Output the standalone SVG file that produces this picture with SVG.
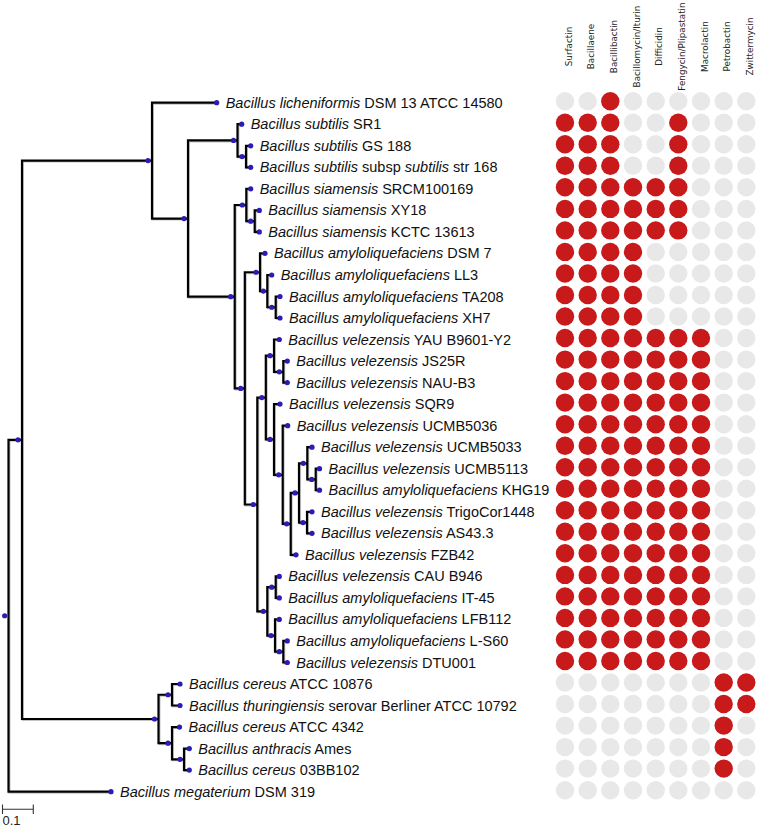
<svg xmlns="http://www.w3.org/2000/svg" width="759" height="829" viewBox="0 0 759 829">
<style>
.br{fill:none;stroke:#000;stroke-width:2.2;stroke-linejoin:miter;stroke-linecap:butt}
.sh{fill:none;stroke:#c4c4c4;stroke-width:2.2;stroke-linejoin:miter}
.nd{fill:#2a1cb4}
.lb{font-family:"Liberation Sans",Arial,sans-serif;font-size:14.5px;fill:#111}
.lb tspan.i{font-style:italic}
.hd{font-family:"DejaVu Sans",Verdana,sans-serif;font-size:8.8px;fill:#222;text-anchor:middle}
.r{fill:#c8191b}
.g{fill:#e8e8e8}
</style>
<rect width="759" height="829" fill="#fff"/>
<g id="connectors">
<g transform="translate(0.9,0.9)">
<path class="sh" d="M22 439.8H8.5V791.7H111M152 160.6H22V719H158.5M216.7 102.7H152V218.55H188M237.5 140.4H188V296.7H234.7M241.7 124.2H237.5V156.55H246M250.7 145.8H246V167.3H250.7M246.3 205H234.7V388.4H244.8M250.7 188.8H246.3V221.15H254.7M259.3 210.4H254.7V231.9H259.3M260 272.25H244.8V504.5H257.3M265 253.4H260V291.1H267.3M271.7 275H267.3V307.25H275.7M280 296.5H275.7V318H280M265.8 397.6H257.3V611.35H267.3M274 355.7H265.8V439.45H274M279.3 339.5H274V371.85H283.3M287.3 361.1H283.3V382.6H287.3M280 404.1H274V474.8H282.7M287.7 425.7H282.7V523.85H290.7M299 492.9H290.7V554.8H296M307.3 463.3H299V522.55H307M312 447.2H307.3V479.45H315.7M319.5 468.7H315.7V490.2H319.5M312 511.8H307V533.3H312M275.7 587.15H267.3V635.55H275M279.3 576.4H275.7V597.9H279.3M279.3 619.4H275V651.7H283.3M287.3 640.9H283.3V662.5H287.3M172 694.75H158.5V743.2H172M180 684H172V705.5H180M179.5 727.1H172V759.35H184M189.3 748.6H184V770.1H189.3"/>
</g>
<path class="br" d="M22 439.8H8.5V791.7H111"/>
<path class="br" d="M152 160.6H22V719H158.5"/>
<path class="br" d="M216.7 102.7H152V218.55H188"/>
<path class="br" d="M237.5 140.4H188V296.7H234.7"/>
<path class="br" d="M241.7 124.2H237.5V156.55H246"/>
<path class="br" d="M250.7 145.8H246V167.3H250.7"/>
<path class="br" d="M246.3 205H234.7V388.4H244.8"/>
<path class="br" d="M250.7 188.8H246.3V221.15H254.7"/>
<path class="br" d="M259.3 210.4H254.7V231.9H259.3"/>
<path class="br" d="M260 272.25H244.8V504.5H257.3"/>
<path class="br" d="M265 253.4H260V291.1H267.3"/>
<path class="br" d="M271.7 275H267.3V307.25H275.7"/>
<path class="br" d="M280 296.5H275.7V318H280"/>
<path class="br" d="M265.8 397.6H257.3V611.35H267.3"/>
<path class="br" d="M274 355.7H265.8V439.45H274"/>
<path class="br" d="M279.3 339.5H274V371.85H283.3"/>
<path class="br" d="M287.3 361.1H283.3V382.6H287.3"/>
<path class="br" d="M280 404.1H274V474.8H282.7"/>
<path class="br" d="M287.7 425.7H282.7V523.85H290.7"/>
<path class="br" d="M299 492.9H290.7V554.8H296"/>
<path class="br" d="M307.3 463.3H299V522.55H307"/>
<path class="br" d="M312 447.2H307.3V479.45H315.7"/>
<path class="br" d="M319.5 468.7H315.7V490.2H319.5"/>
<path class="br" d="M312 511.8H307V533.3H312"/>
<path class="br" d="M275.7 587.15H267.3V635.55H275"/>
<path class="br" d="M279.3 576.4H275.7V597.9H279.3"/>
<path class="br" d="M279.3 619.4H275V651.7H283.3"/>
<path class="br" d="M287.3 640.9H283.3V662.5H287.3"/>
<path class="br" d="M172 694.75H158.5V743.2H172"/>
<path class="br" d="M180 684H172V705.5H180"/>
<path class="br" d="M179.5 727.1H172V759.35H184"/>
<path class="br" d="M189.3 748.6H184V770.1H189.3"/>
</g>
<g id="internal-nodes">
<circle id="n-root" class="nd" cx="4.7" cy="615.75" r="2.6"/>
<circle id="n-A" class="nd" cx="18" cy="439.8" r="2.6"/>
<circle id="n-B" class="nd" cx="148" cy="160.6" r="2.6"/>
<circle id="n-C" class="nd" cx="184" cy="218.55" r="2.6"/>
<circle id="n-S1" class="nd" cx="233.5" cy="140.4" r="2.6"/>
<circle id="n-S2" class="nd" cx="242" cy="156.55" r="2.6"/>
<circle id="n-D" class="nd" cx="230.7" cy="296.7" r="2.6"/>
<circle id="n-Si1" class="nd" cx="242.3" cy="205" r="2.6"/>
<circle id="n-Si2" class="nd" cx="250.7" cy="221.15" r="2.6"/>
<circle id="n-E" class="nd" cx="240.7" cy="388.4" r="2.6"/>
<circle id="n-Am1" class="nd" cx="256" cy="272.25" r="2.6"/>
<circle id="n-Am2" class="nd" cx="263.3" cy="291.1" r="2.6"/>
<circle id="n-Am3" class="nd" cx="271.7" cy="307.25" r="2.6"/>
<circle id="n-F" class="nd" cx="253.3" cy="504.5" r="2.6"/>
<circle id="n-G" class="nd" cx="261.8" cy="397.6" r="2.6"/>
<circle id="n-V1" class="nd" cx="270" cy="355.7" r="2.6"/>
<circle id="n-V2" class="nd" cx="279.3" cy="371.85" r="2.6"/>
<circle id="n-V3" class="nd" cx="270" cy="439.45" r="2.6"/>
<circle id="n-V4" class="nd" cx="278.7" cy="474.8" r="2.6"/>
<circle id="n-V5" class="nd" cx="286.7" cy="523.85" r="2.6"/>
<circle id="n-V9" class="nd" cx="295" cy="492.9" r="2.6"/>
<circle id="n-V6" class="nd" cx="303.3" cy="463.3" r="2.6"/>
<circle id="n-V7" class="nd" cx="311.7" cy="479.45" r="2.6"/>
<circle id="n-V8" class="nd" cx="303" cy="522.55" r="2.6"/>
<circle id="n-H" class="nd" cx="263.3" cy="611.35" r="2.6"/>
<circle id="n-H1" class="nd" cx="271.7" cy="587.15" r="2.6"/>
<circle id="n-H2" class="nd" cx="271" cy="635.55" r="2.6"/>
<circle id="n-H3" class="nd" cx="279.3" cy="651.7" r="2.6"/>
<circle id="n-Cer" class="nd" cx="154.5" cy="719" r="2.6"/>
<circle id="n-Cer1" class="nd" cx="168" cy="694.75" r="2.6"/>
<circle id="n-Cer2" class="nd" cx="168" cy="743.2" r="2.6"/>
<circle id="n-Cer3" class="nd" cx="180" cy="759.35" r="2.6"/>
</g>
<g id="leaves">
<g id="leaf-0"><circle class="nd" cx="216.7" cy="102.7" r="2.6"/><text class="lb" x="225.7" y="107.7"><tspan class="i">Bacillus licheniformis</tspan> DSM 13 ATCC 14580</text></g>
<g id="leaf-1"><circle class="nd" cx="241.7" cy="124.2" r="2.6"/><text class="lb" x="250.7" y="129.2"><tspan class="i">Bacillus subtilis</tspan> SR1</text></g>
<g id="leaf-2"><circle class="nd" cx="250.7" cy="145.8" r="2.6"/><text class="lb" x="259.7" y="150.8"><tspan class="i">Bacillus subtilis</tspan> GS 188</text></g>
<g id="leaf-3"><circle class="nd" cx="250.7" cy="167.3" r="2.6"/><text class="lb" x="259.7" y="172.3"><tspan class="i">Bacillus subtilis</tspan> subsp <tspan class="i">subtilis</tspan> str 168</text></g>
<g id="leaf-4"><circle class="nd" cx="250.7" cy="188.8" r="2.6"/><text class="lb" x="259.7" y="193.8"><tspan class="i">Bacillus siamensis</tspan> SRCM100169</text></g>
<g id="leaf-5"><circle class="nd" cx="259.3" cy="210.4" r="2.6"/><text class="lb" x="268.3" y="215.4"><tspan class="i">Bacillus siamensis</tspan> XY18</text></g>
<g id="leaf-6"><circle class="nd" cx="259.3" cy="231.9" r="2.6"/><text class="lb" x="268.3" y="236.9"><tspan class="i">Bacillus siamensis</tspan> KCTC 13613</text></g>
<g id="leaf-7"><circle class="nd" cx="265" cy="253.4" r="2.6"/><text class="lb" x="274" y="258.4"><tspan class="i">Bacillus amyloliquefaciens</tspan> DSM 7</text></g>
<g id="leaf-8"><circle class="nd" cx="271.7" cy="275" r="2.6"/><text class="lb" x="280.7" y="280"><tspan class="i">Bacillus amyloliquefaciens</tspan> LL3</text></g>
<g id="leaf-9"><circle class="nd" cx="280" cy="296.5" r="2.6"/><text class="lb" x="289" y="301.5"><tspan class="i">Bacillus amyloliquefaciens</tspan> TA208</text></g>
<g id="leaf-10"><circle class="nd" cx="280" cy="318" r="2.6"/><text class="lb" x="289" y="323"><tspan class="i">Bacillus amyloliquefaciens</tspan> XH7</text></g>
<g id="leaf-11"><circle class="nd" cx="279.3" cy="339.5" r="2.6"/><text class="lb" x="288.3" y="344.5"><tspan class="i">Bacillus velezensis</tspan> YAU B9601-Y2</text></g>
<g id="leaf-12"><circle class="nd" cx="287.3" cy="361.1" r="2.6"/><text class="lb" x="296.3" y="366.1"><tspan class="i">Bacillus velezensis</tspan> JS25R</text></g>
<g id="leaf-13"><circle class="nd" cx="287.3" cy="382.6" r="2.6"/><text class="lb" x="296.3" y="387.6"><tspan class="i">Bacillus velezensis</tspan> NAU-B3</text></g>
<g id="leaf-14"><circle class="nd" cx="280" cy="404.1" r="2.6"/><text class="lb" x="289" y="409.1"><tspan class="i">Bacillus velezensis</tspan> SQR9</text></g>
<g id="leaf-15"><circle class="nd" cx="287.7" cy="425.7" r="2.6"/><text class="lb" x="296.7" y="430.7"><tspan class="i">Bacillus velezensis</tspan> UCMB5036</text></g>
<g id="leaf-16"><circle class="nd" cx="312" cy="447.2" r="2.6"/><text class="lb" x="321" y="452.2"><tspan class="i">Bacillus velezensis</tspan> UCMB5033</text></g>
<g id="leaf-17"><circle class="nd" cx="319.5" cy="468.7" r="2.6"/><text class="lb" x="328.5" y="473.7"><tspan class="i">Bacillus velezensis</tspan> UCMB5113</text></g>
<g id="leaf-18"><circle class="nd" cx="319.5" cy="490.2" r="2.6"/><text class="lb" x="328.5" y="495.2"><tspan class="i">Bacillus amyloliquefaciens</tspan> KHG19</text></g>
<g id="leaf-19"><circle class="nd" cx="312" cy="511.8" r="2.6"/><text class="lb" x="321" y="516.8"><tspan class="i">Bacillus velezensis</tspan> TrigoCor1448</text></g>
<g id="leaf-20"><circle class="nd" cx="312" cy="533.3" r="2.6"/><text class="lb" x="321" y="538.3"><tspan class="i">Bacillus velezensis</tspan> AS43.3</text></g>
<g id="leaf-21"><circle class="nd" cx="296" cy="554.8" r="2.6"/><text class="lb" x="305" y="559.8"><tspan class="i">Bacillus velezensis</tspan> FZB42</text></g>
<g id="leaf-22"><circle class="nd" cx="279.3" cy="576.4" r="2.6"/><text class="lb" x="288.3" y="581.4"><tspan class="i">Bacillus velezensis</tspan> CAU B946</text></g>
<g id="leaf-23"><circle class="nd" cx="279.3" cy="597.9" r="2.6"/><text class="lb" x="288.3" y="602.9"><tspan class="i">Bacillus amyloliquefaciens</tspan> IT-45</text></g>
<g id="leaf-24"><circle class="nd" cx="279.3" cy="619.4" r="2.6"/><text class="lb" x="288.3" y="624.4"><tspan class="i">Bacillus amyloliquefaciens</tspan> LFB112</text></g>
<g id="leaf-25"><circle class="nd" cx="287.3" cy="640.9" r="2.6"/><text class="lb" x="296.3" y="645.9"><tspan class="i">Bacillus amyloliquefaciens</tspan> L-S60</text></g>
<g id="leaf-26"><circle class="nd" cx="287.3" cy="662.5" r="2.6"/><text class="lb" x="296.3" y="667.5"><tspan class="i">Bacillus velezensis</tspan> DTU001</text></g>
<g id="leaf-27"><circle class="nd" cx="180" cy="684" r="2.6"/><text class="lb" x="189" y="689"><tspan class="i">Bacillus cereus</tspan> ATCC 10876</text></g>
<g id="leaf-28"><circle class="nd" cx="180" cy="705.5" r="2.6"/><text class="lb" x="189" y="710.5"><tspan class="i">Bacillus thuringiensis</tspan> serovar Berliner ATCC 10792</text></g>
<g id="leaf-29"><circle class="nd" cx="179.5" cy="727.1" r="2.6"/><text class="lb" x="188.5" y="732.1"><tspan class="i">Bacillus cereus</tspan> ATCC 4342</text></g>
<g id="leaf-30"><circle class="nd" cx="189.3" cy="748.6" r="2.6"/><text class="lb" x="198.3" y="753.6"><tspan class="i">Bacillus anthracis</tspan> Ames</text></g>
<g id="leaf-31"><circle class="nd" cx="189.3" cy="770.1" r="2.6"/><text class="lb" x="198.3" y="775.1"><tspan class="i">Bacillus cereus</tspan> 03BB102</text></g>
<g id="leaf-32"><circle class="nd" cx="111" cy="791.7" r="2.6"/><text class="lb" x="120" y="796.7"><tspan class="i">Bacillus megaterium</tspan> DSM 319</text></g>
</g>
<g id="headers">
<text class="hd" transform="translate(571.5,46.5) rotate(-90)">Surfactin</text>
<text class="hd" transform="translate(594.2,46.5) rotate(-90)">Bacillaene</text>
<text class="hd" transform="translate(616.8,46.5) rotate(-90)">Bacillibactin</text>
<text class="hd" transform="translate(639.5,46.5) rotate(-90)">Bacillomycin/Iturin</text>
<text class="hd" transform="translate(662.2,46.5) rotate(-90)">Difficidin</text>
<text class="hd" transform="translate(684.8,46.5) rotate(-90)">Fengycin/Plipastatin</text>
<text class="hd" transform="translate(707.5,46.5) rotate(-90)">Macrolactin</text>
<text class="hd" transform="translate(730.2,46.5) rotate(-90)">Petrobactin</text>
<text class="hd" transform="translate(752.8,46.5) rotate(-90)">Zwittermycin</text>
</g>
<defs>
<circle id="c" r="9.2"/>
</defs>
<g id="matrix">
<g transform="translate(0,101.2)"><use href="#c" x="565" class="g"/><use href="#c" x="587.7" class="g"/><use href="#c" x="610.3" class="r"/><use href="#c" x="633" class="g"/><use href="#c" x="655.7" class="g"/><use href="#c" x="678.3" class="g"/><use href="#c" x="701" class="g"/><use href="#c" x="723.7" class="g"/><use href="#c" x="746.3" class="g"/></g>
<g transform="translate(0,122.7)"><use href="#c" x="565" class="r"/><use href="#c" x="587.7" class="r"/><use href="#c" x="610.3" class="r"/><use href="#c" x="633" class="g"/><use href="#c" x="655.7" class="g"/><use href="#c" x="678.3" class="r"/><use href="#c" x="701" class="g"/><use href="#c" x="723.7" class="g"/><use href="#c" x="746.3" class="g"/></g>
<g transform="translate(0,144.3)"><use href="#c" x="565" class="r"/><use href="#c" x="587.7" class="r"/><use href="#c" x="610.3" class="r"/><use href="#c" x="633" class="g"/><use href="#c" x="655.7" class="g"/><use href="#c" x="678.3" class="r"/><use href="#c" x="701" class="g"/><use href="#c" x="723.7" class="g"/><use href="#c" x="746.3" class="g"/></g>
<g transform="translate(0,165.8)"><use href="#c" x="565" class="r"/><use href="#c" x="587.7" class="r"/><use href="#c" x="610.3" class="r"/><use href="#c" x="633" class="g"/><use href="#c" x="655.7" class="g"/><use href="#c" x="678.3" class="r"/><use href="#c" x="701" class="g"/><use href="#c" x="723.7" class="g"/><use href="#c" x="746.3" class="g"/></g>
<g transform="translate(0,187.3)"><use href="#c" x="565" class="r"/><use href="#c" x="587.7" class="r"/><use href="#c" x="610.3" class="r"/><use href="#c" x="633" class="r"/><use href="#c" x="655.7" class="r"/><use href="#c" x="678.3" class="r"/><use href="#c" x="701" class="g"/><use href="#c" x="723.7" class="g"/><use href="#c" x="746.3" class="g"/></g>
<g transform="translate(0,208.9)"><use href="#c" x="565" class="r"/><use href="#c" x="587.7" class="r"/><use href="#c" x="610.3" class="r"/><use href="#c" x="633" class="r"/><use href="#c" x="655.7" class="r"/><use href="#c" x="678.3" class="r"/><use href="#c" x="701" class="g"/><use href="#c" x="723.7" class="g"/><use href="#c" x="746.3" class="g"/></g>
<g transform="translate(0,230.4)"><use href="#c" x="565" class="r"/><use href="#c" x="587.7" class="r"/><use href="#c" x="610.3" class="r"/><use href="#c" x="633" class="r"/><use href="#c" x="655.7" class="r"/><use href="#c" x="678.3" class="r"/><use href="#c" x="701" class="g"/><use href="#c" x="723.7" class="g"/><use href="#c" x="746.3" class="g"/></g>
<g transform="translate(0,251.9)"><use href="#c" x="565" class="r"/><use href="#c" x="587.7" class="r"/><use href="#c" x="610.3" class="r"/><use href="#c" x="633" class="r"/><use href="#c" x="655.7" class="g"/><use href="#c" x="678.3" class="g"/><use href="#c" x="701" class="g"/><use href="#c" x="723.7" class="g"/><use href="#c" x="746.3" class="g"/></g>
<g transform="translate(0,273.5)"><use href="#c" x="565" class="r"/><use href="#c" x="587.7" class="r"/><use href="#c" x="610.3" class="r"/><use href="#c" x="633" class="r"/><use href="#c" x="655.7" class="g"/><use href="#c" x="678.3" class="g"/><use href="#c" x="701" class="g"/><use href="#c" x="723.7" class="g"/><use href="#c" x="746.3" class="g"/></g>
<g transform="translate(0,295)"><use href="#c" x="565" class="r"/><use href="#c" x="587.7" class="r"/><use href="#c" x="610.3" class="r"/><use href="#c" x="633" class="r"/><use href="#c" x="655.7" class="g"/><use href="#c" x="678.3" class="g"/><use href="#c" x="701" class="g"/><use href="#c" x="723.7" class="g"/><use href="#c" x="746.3" class="g"/></g>
<g transform="translate(0,316.5)"><use href="#c" x="565" class="r"/><use href="#c" x="587.7" class="r"/><use href="#c" x="610.3" class="r"/><use href="#c" x="633" class="r"/><use href="#c" x="655.7" class="g"/><use href="#c" x="678.3" class="g"/><use href="#c" x="701" class="g"/><use href="#c" x="723.7" class="g"/><use href="#c" x="746.3" class="g"/></g>
<g transform="translate(0,338)"><use href="#c" x="565" class="r"/><use href="#c" x="587.7" class="r"/><use href="#c" x="610.3" class="r"/><use href="#c" x="633" class="r"/><use href="#c" x="655.7" class="r"/><use href="#c" x="678.3" class="r"/><use href="#c" x="701" class="r"/><use href="#c" x="723.7" class="g"/><use href="#c" x="746.3" class="g"/></g>
<g transform="translate(0,359.6)"><use href="#c" x="565" class="r"/><use href="#c" x="587.7" class="r"/><use href="#c" x="610.3" class="r"/><use href="#c" x="633" class="r"/><use href="#c" x="655.7" class="r"/><use href="#c" x="678.3" class="r"/><use href="#c" x="701" class="r"/><use href="#c" x="723.7" class="g"/><use href="#c" x="746.3" class="g"/></g>
<g transform="translate(0,381.1)"><use href="#c" x="565" class="r"/><use href="#c" x="587.7" class="r"/><use href="#c" x="610.3" class="r"/><use href="#c" x="633" class="r"/><use href="#c" x="655.7" class="r"/><use href="#c" x="678.3" class="r"/><use href="#c" x="701" class="r"/><use href="#c" x="723.7" class="g"/><use href="#c" x="746.3" class="g"/></g>
<g transform="translate(0,402.6)"><use href="#c" x="565" class="r"/><use href="#c" x="587.7" class="r"/><use href="#c" x="610.3" class="r"/><use href="#c" x="633" class="r"/><use href="#c" x="655.7" class="r"/><use href="#c" x="678.3" class="r"/><use href="#c" x="701" class="r"/><use href="#c" x="723.7" class="g"/><use href="#c" x="746.3" class="g"/></g>
<g transform="translate(0,424.2)"><use href="#c" x="565" class="r"/><use href="#c" x="587.7" class="r"/><use href="#c" x="610.3" class="r"/><use href="#c" x="633" class="r"/><use href="#c" x="655.7" class="r"/><use href="#c" x="678.3" class="r"/><use href="#c" x="701" class="r"/><use href="#c" x="723.7" class="g"/><use href="#c" x="746.3" class="g"/></g>
<g transform="translate(0,445.7)"><use href="#c" x="565" class="r"/><use href="#c" x="587.7" class="r"/><use href="#c" x="610.3" class="r"/><use href="#c" x="633" class="r"/><use href="#c" x="655.7" class="r"/><use href="#c" x="678.3" class="r"/><use href="#c" x="701" class="r"/><use href="#c" x="723.7" class="g"/><use href="#c" x="746.3" class="g"/></g>
<g transform="translate(0,467.2)"><use href="#c" x="565" class="r"/><use href="#c" x="587.7" class="r"/><use href="#c" x="610.3" class="r"/><use href="#c" x="633" class="r"/><use href="#c" x="655.7" class="r"/><use href="#c" x="678.3" class="r"/><use href="#c" x="701" class="r"/><use href="#c" x="723.7" class="g"/><use href="#c" x="746.3" class="g"/></g>
<g transform="translate(0,488.7)"><use href="#c" x="565" class="r"/><use href="#c" x="587.7" class="r"/><use href="#c" x="610.3" class="r"/><use href="#c" x="633" class="r"/><use href="#c" x="655.7" class="r"/><use href="#c" x="678.3" class="r"/><use href="#c" x="701" class="r"/><use href="#c" x="723.7" class="g"/><use href="#c" x="746.3" class="g"/></g>
<g transform="translate(0,510.3)"><use href="#c" x="565" class="r"/><use href="#c" x="587.7" class="r"/><use href="#c" x="610.3" class="r"/><use href="#c" x="633" class="r"/><use href="#c" x="655.7" class="r"/><use href="#c" x="678.3" class="r"/><use href="#c" x="701" class="r"/><use href="#c" x="723.7" class="g"/><use href="#c" x="746.3" class="g"/></g>
<g transform="translate(0,531.8)"><use href="#c" x="565" class="r"/><use href="#c" x="587.7" class="r"/><use href="#c" x="610.3" class="r"/><use href="#c" x="633" class="r"/><use href="#c" x="655.7" class="r"/><use href="#c" x="678.3" class="r"/><use href="#c" x="701" class="r"/><use href="#c" x="723.7" class="g"/><use href="#c" x="746.3" class="g"/></g>
<g transform="translate(0,553.3)"><use href="#c" x="565" class="r"/><use href="#c" x="587.7" class="r"/><use href="#c" x="610.3" class="r"/><use href="#c" x="633" class="r"/><use href="#c" x="655.7" class="r"/><use href="#c" x="678.3" class="r"/><use href="#c" x="701" class="r"/><use href="#c" x="723.7" class="g"/><use href="#c" x="746.3" class="g"/></g>
<g transform="translate(0,574.9)"><use href="#c" x="565" class="r"/><use href="#c" x="587.7" class="r"/><use href="#c" x="610.3" class="r"/><use href="#c" x="633" class="r"/><use href="#c" x="655.7" class="r"/><use href="#c" x="678.3" class="r"/><use href="#c" x="701" class="r"/><use href="#c" x="723.7" class="g"/><use href="#c" x="746.3" class="g"/></g>
<g transform="translate(0,596.4)"><use href="#c" x="565" class="r"/><use href="#c" x="587.7" class="r"/><use href="#c" x="610.3" class="r"/><use href="#c" x="633" class="r"/><use href="#c" x="655.7" class="r"/><use href="#c" x="678.3" class="r"/><use href="#c" x="701" class="r"/><use href="#c" x="723.7" class="g"/><use href="#c" x="746.3" class="g"/></g>
<g transform="translate(0,617.9)"><use href="#c" x="565" class="r"/><use href="#c" x="587.7" class="r"/><use href="#c" x="610.3" class="r"/><use href="#c" x="633" class="r"/><use href="#c" x="655.7" class="r"/><use href="#c" x="678.3" class="r"/><use href="#c" x="701" class="r"/><use href="#c" x="723.7" class="g"/><use href="#c" x="746.3" class="g"/></g>
<g transform="translate(0,639.4)"><use href="#c" x="565" class="r"/><use href="#c" x="587.7" class="r"/><use href="#c" x="610.3" class="r"/><use href="#c" x="633" class="r"/><use href="#c" x="655.7" class="r"/><use href="#c" x="678.3" class="r"/><use href="#c" x="701" class="r"/><use href="#c" x="723.7" class="g"/><use href="#c" x="746.3" class="g"/></g>
<g transform="translate(0,661)"><use href="#c" x="565" class="r"/><use href="#c" x="587.7" class="r"/><use href="#c" x="610.3" class="r"/><use href="#c" x="633" class="r"/><use href="#c" x="655.7" class="r"/><use href="#c" x="678.3" class="r"/><use href="#c" x="701" class="r"/><use href="#c" x="723.7" class="g"/><use href="#c" x="746.3" class="g"/></g>
<g transform="translate(0,682.5)"><use href="#c" x="565" class="g"/><use href="#c" x="587.7" class="g"/><use href="#c" x="610.3" class="g"/><use href="#c" x="633" class="g"/><use href="#c" x="655.7" class="g"/><use href="#c" x="678.3" class="g"/><use href="#c" x="701" class="g"/><use href="#c" x="723.7" class="r"/><use href="#c" x="746.3" class="r"/></g>
<g transform="translate(0,704)"><use href="#c" x="565" class="g"/><use href="#c" x="587.7" class="g"/><use href="#c" x="610.3" class="g"/><use href="#c" x="633" class="g"/><use href="#c" x="655.7" class="g"/><use href="#c" x="678.3" class="g"/><use href="#c" x="701" class="g"/><use href="#c" x="723.7" class="r"/><use href="#c" x="746.3" class="r"/></g>
<g transform="translate(0,725.6)"><use href="#c" x="565" class="g"/><use href="#c" x="587.7" class="g"/><use href="#c" x="610.3" class="g"/><use href="#c" x="633" class="g"/><use href="#c" x="655.7" class="g"/><use href="#c" x="678.3" class="g"/><use href="#c" x="701" class="g"/><use href="#c" x="723.7" class="r"/><use href="#c" x="746.3" class="g"/></g>
<g transform="translate(0,747.1)"><use href="#c" x="565" class="g"/><use href="#c" x="587.7" class="g"/><use href="#c" x="610.3" class="g"/><use href="#c" x="633" class="g"/><use href="#c" x="655.7" class="g"/><use href="#c" x="678.3" class="g"/><use href="#c" x="701" class="g"/><use href="#c" x="723.7" class="r"/><use href="#c" x="746.3" class="g"/></g>
<g transform="translate(0,768.6)"><use href="#c" x="565" class="g"/><use href="#c" x="587.7" class="g"/><use href="#c" x="610.3" class="g"/><use href="#c" x="633" class="g"/><use href="#c" x="655.7" class="g"/><use href="#c" x="678.3" class="g"/><use href="#c" x="701" class="g"/><use href="#c" x="723.7" class="r"/><use href="#c" x="746.3" class="g"/></g>
<g transform="translate(0,790.2)"><use href="#c" x="565" class="g"/><use href="#c" x="587.7" class="g"/><use href="#c" x="610.3" class="g"/><use href="#c" x="633" class="g"/><use href="#c" x="655.7" class="g"/><use href="#c" x="678.3" class="g"/><use href="#c" x="701" class="g"/><use href="#c" x="723.7" class="g"/><use href="#c" x="746.3" class="g"/></g>
</g>
<g id="scale-bar">
<path d="M2.5 809.3H33.3M2.5 804.5V814M33.3 804.5V814" fill="none" stroke="#333" stroke-width="1.1"/>
<text x="2.5" y="825" font-family="'Liberation Sans',Arial,sans-serif" font-size="13" fill="#222">0.1</text>
</g>
</svg>
